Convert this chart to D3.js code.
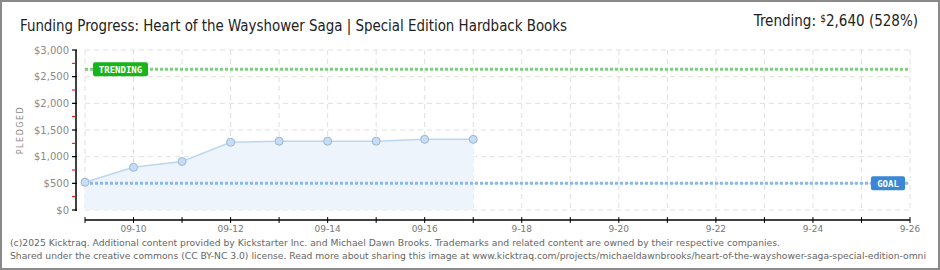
<!DOCTYPE html>
<html><head><meta charset="utf-8">
<script src="https://cdn.jsdelivr.net/npm/d3@7"></script>
<style>body{margin:0;background:#fff}svg{display:block}</style>
</head><body>
<script>
const dates = ["2025-09-09","2025-09-10","2025-09-11","2025-09-12","2025-09-13","2025-09-14","2025-09-15","2025-09-16","2025-09-17"];
const pledged = [520, 800, 910, 1270, 1290, 1290, 1290, 1325, 1325];
const goal = 500;
const trending = 2640;
const yTicks = [0, 500, 1000, 1500, 2000, 2500, 3000];
const yTickLabels = ["$0","$500","$1,000","$1,500","$2,000","$2,500","$3,000"];
const xTickDates = ["2025-09-10","2025-09-12","2025-09-14","2025-09-16","2025-09-18","2025-09-20","2025-09-22","2025-09-24","2025-09-26"];
const xTickLabels = ["09-10","09-12","09-14","09-16","9-18","9-20","9-22","9-24","9-26"];
const title = "Funding Progress: Heart of the Wayshower Saga | Special Edition Hardback Books";
const footer1 = "(c)2025 Kicktraq. Additional content provided by Kickstarter Inc. and Michael Dawn Brooks. Trademarks and related content are owned by their respective companies.";
const footer2 = "Shared under the creative commons (CC BY-NC 3.0) license. Read more about sharing this image at www.kicktraq.com/projects/michaeldawnbrooks/heart-of-the-wayshower-saga-special-edition-omni";

const W = 940, H = 270;
const svg = d3.select("body").append("svg").attr("width", W).attr("height", H);
svg.append("rect").attr("x",1).attr("y",1).attr("width",W-2).attr("height",H-2)
  .attr("fill","#fff").attr("stroke","#8a8a8a").attr("stroke-width",2);

const parse = d3.utcParse("%Y-%m-%d");
const x = d3.scaleUtc().domain([parse("2025-09-09"), parse("2025-09-26")]).range([85, 910]);
const y = d3.scaleLinear().domain([0, 3000]).range([210, 50]);
const allDays = d3.utcDay.range(parse("2025-09-09"), d3.utcDay.offset(parse("2025-09-26"),1));

// grid
const grid = svg.append("g");
grid.selectAll(".hg").data(yTicks).join("line")
  .attr("x1",85).attr("x2",910).attr("y1",d=>y(d)).attr("y2",d=>y(d))
  .attr("stroke","#e0e0e0").attr("stroke-dasharray","5,4");
grid.selectAll(".vg").data(allDays).join("line")
  .attr("x1",d=>x(d)).attr("x2",d=>x(d)).attr("y1",50).attr("y2",210)
  .attr("stroke","#e0e0e0").attr("stroke-dasharray","5,4");

// area + line
const pts = dates.map((d,i)=>({d:parse(d), v:pledged[i]}));
svg.append("path").datum(pts)
  .attr("d", d3.area().x(p=>x(p.d)).y0(y(0)).y1(p=>y(p.v)))
  .attr("fill","#edf4fc");
svg.append("path").datum(pts)
  .attr("d", d3.line().x(p=>x(p.d)).y(p=>y(p.v)))
  .attr("fill","none").attr("stroke","#bcd6f2").attr("stroke-width",1.5);

// goal & trending lines
svg.append("line").attr("x1",85).attr("x2",910).attr("y1",y(goal)).attr("y2",y(goal))
  .attr("stroke","#8cb8e8").attr("stroke-width",3).attr("stroke-dasharray","3,2");
svg.append("line").attr("x1",85).attr("x2",910).attr("y1",y(trending)).attr("y2",y(trending))
  .attr("stroke","#7cd27c").attr("stroke-width",3).attr("stroke-dasharray","3,2");

// points
svg.selectAll(".pt").data(pts).join("circle")
  .attr("cx",p=>x(p.d)).attr("cy",p=>y(p.v)).attr("r",4)
  .attr("fill","#c7ddf6").attr("stroke","#9db5d6").attr("stroke-width",1);

// labels
function badge(cx0, cy, w, fill, txt){
  svg.append("rect").attr("x",cx0).attr("y",cy-7).attr("width",w).attr("height",14)
    .attr("rx",2).attr("fill",fill);
  svg.append("text").attr("x",cx0+w/2).attr("y",cy+3.5).attr("text-anchor","middle")
    .attr("font-family","DejaVu Sans Mono").attr("font-weight","bold").attr("font-size",9)
    .attr("fill","#fff").text(txt);
}
badge(93, y(trending), 55, "#17b517", "TRENDING");
badge(871, y(goal), 34, "#3a87d6", "GOAL");

// y axis
const ya = svg.append("g");
ya.append("line").attr("x1",76).attr("x2",76).attr("y1",50).attr("y2",211).attr("stroke","#000").attr("stroke-width",1.5);
ya.selectAll(".mt").data(yTicks).join("line")
  .attr("x1",72).attr("x2",77).attr("y1",d=>y(d)).attr("y2",d=>y(d)).attr("stroke","#000").attr("stroke-width",1.2);
ya.selectAll(".nt").data(yTicks.slice(0,-1)).join("line")
  .attr("x1",72).attr("x2",76).attr("y1",d=>y(d+250)).attr("y2",d=>y(d+250)).attr("stroke","#e00").attr("stroke-width",1);
ya.selectAll(".yl").data(yTicks).join("text")
  .attr("x",69).attr("y",d=>y(d)+3.5).attr("text-anchor","end")
  .attr("font-family","DejaVu Sans").attr("font-size",10).attr("fill","#8a8a8a")
  .text((d,i)=>yTickLabels[i]);
svg.append("text").attr("transform","translate(23,130) rotate(-90)").attr("text-anchor","middle")
  .attr("font-family","DejaVu Sans").attr("font-size",8).attr("letter-spacing",1.5).attr("fill","#8a8a8a").text("PLEDGED");

// x axis
const xa = svg.append("g");
xa.append("line").attr("x1",85).attr("x2",910).attr("y1",220).attr("y2",220).attr("stroke","#000").attr("stroke-width",1.5);
xa.selectAll(".xt").data(allDays).join("line")
  .attr("x1",d=>x(d)).attr("x2",d=>x(d)).attr("y1",217).attr("y2",223).attr("stroke","#000").attr("stroke-width",1);
xa.selectAll(".xl").data(xTickDates).join("text")
  .attr("x",d=>x(parse(d))).attr("y",232).attr("text-anchor","middle")
  .attr("font-family","DejaVu Sans").attr("font-size",9).attr("fill","#777")
  .text((d,i)=>xTickLabels[i]);

// title
svg.append("text").attr("x",20).attr("y",31).attr("font-family","DejaVu Sans Condensed")
  .attr("font-size",16).attr("fill","#222").attr("textLength",547).attr("lengthAdjust","spacingAndGlyphs").text(title);
const tr = svg.append("text").attr("x",918).attr("y",26).attr("text-anchor","end")
  .attr("font-family","DejaVu Sans Condensed").attr("font-size",15).attr("fill","#222");
tr.append("tspan").text("Trending:  ");
tr.append("tspan").attr("font-size",10).attr("dy",-4).text("$");
tr.append("tspan").attr("dy",4).text(d3.format(",")(trending) + " (" + Math.round(trending/goal*100) + "%)");

// footer
svg.append("text").attr("x",10).attr("y",246).attr("font-family","DejaVu Sans").attr("font-size",9.5)
  .attr("fill","#666").attr("textLength",770).attr("lengthAdjust","spacingAndGlyphs").text(footer1);
svg.append("text").attr("x",10).attr("y",259).attr("font-family","DejaVu Sans Condensed").attr("font-size",9.5)
  .attr("fill","#666").attr("textLength",916).attr("lengthAdjust","spacingAndGlyphs").text(footer2);
</script>
</body></html>
